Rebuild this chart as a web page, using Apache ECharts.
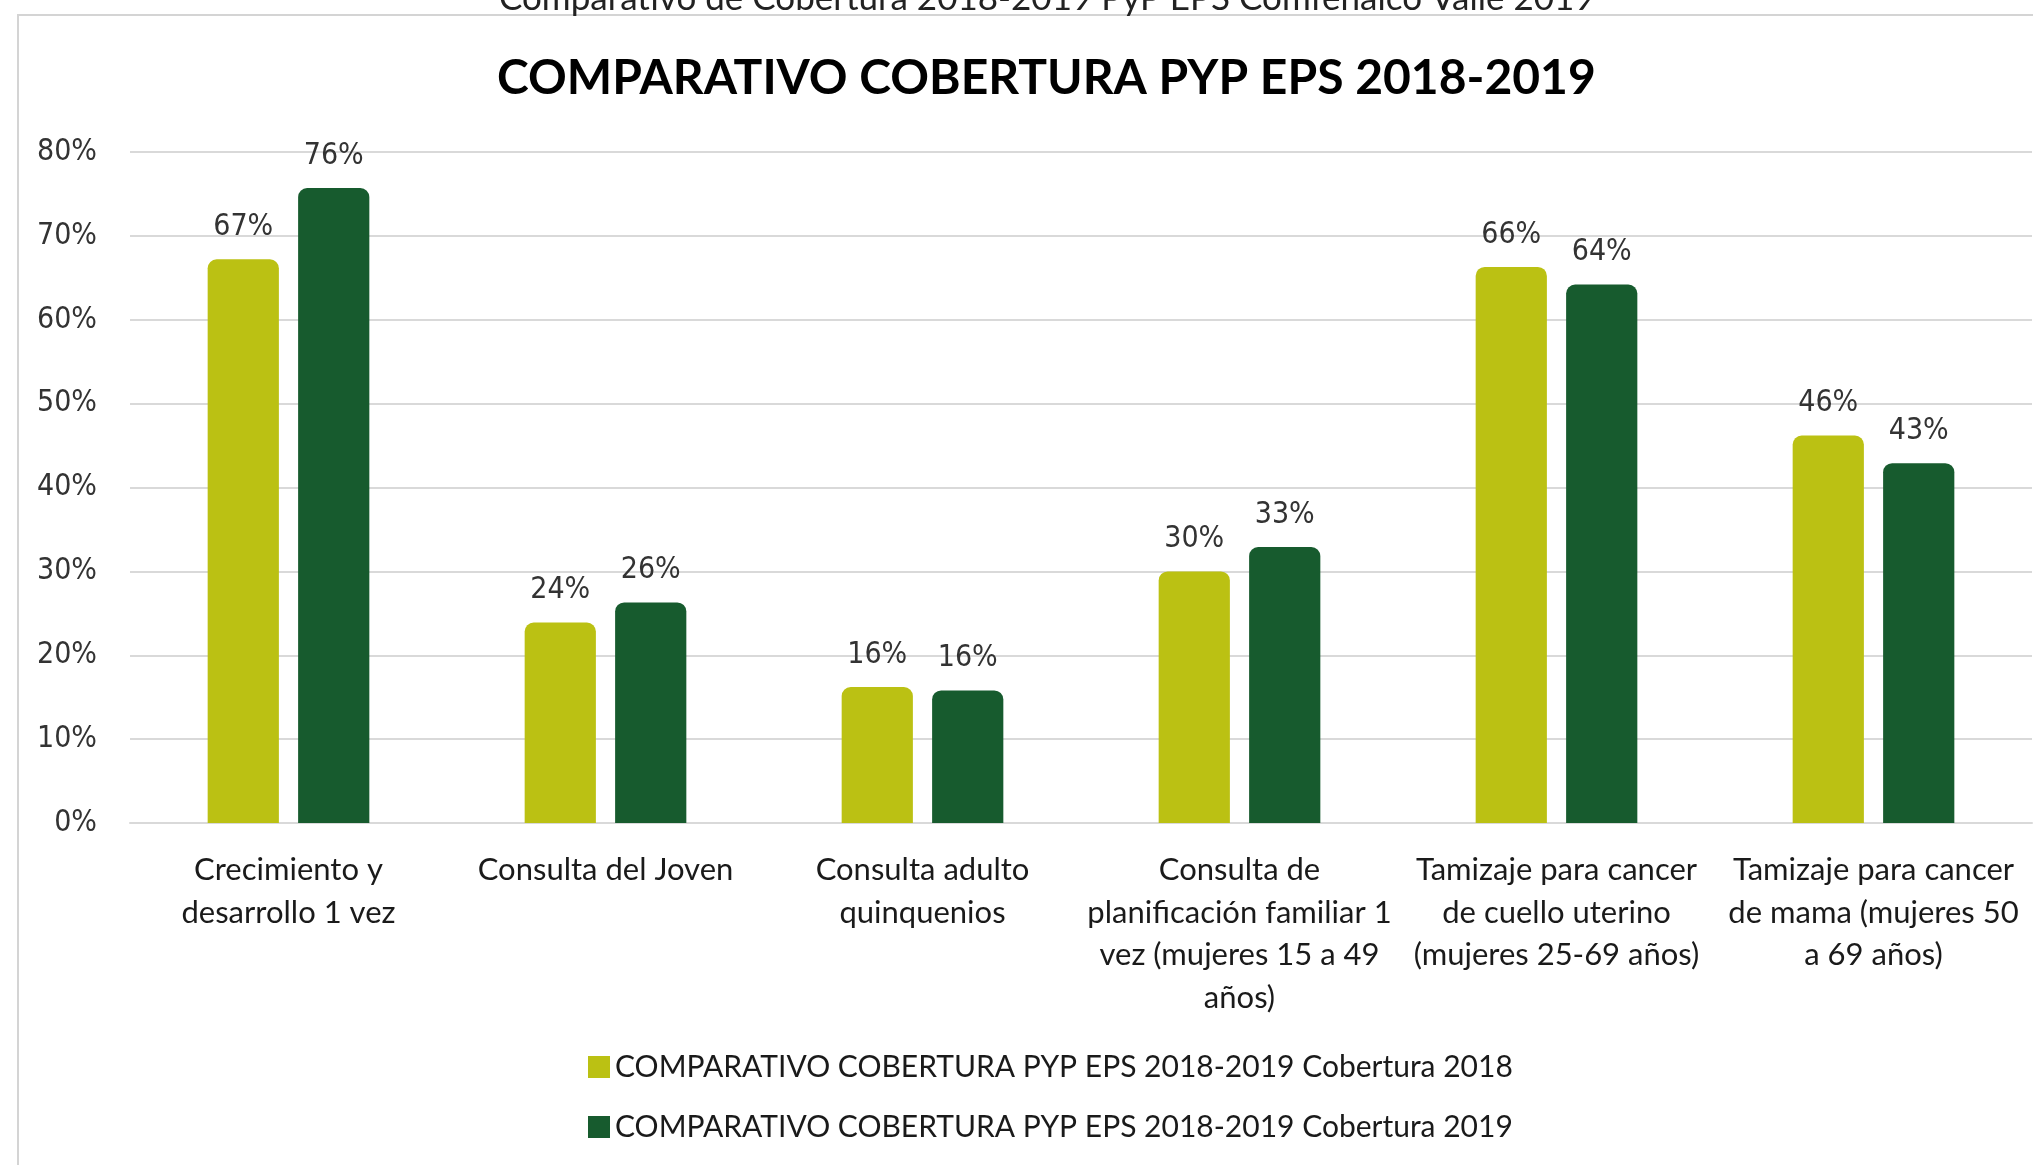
<!DOCTYPE html>
<html>
<head>
<meta charset="utf-8">
<script src="https://cdn.jsdelivr.net/npm/echarts@6/dist/echarts.min.js"></script>
<style>
  html, body { margin: 0; padding: 0; background: #fff; }
  #chart { width: 2033px; height: 1165px; }
</style>
</head>
<body>
<div id="chart"></div>
<script>
const categories = [
  'Crecimiento y\ndesarrollo 1 vez',
  'Consulta del Joven',
  'Consulta adulto\nquinquenios',
  'Consulta de\nplanificación familiar 1\nvez (mujeres 15 a 49\naños)',
  'Tamizaje para cancer\nde cuello uterino\n(mujeres 25-69 años)',
  'Tamizaje para cancer\nde mama (mujeres 50\na 69 años)'
]
const cobertura2018 = [67.2, 23.9, 16.2, 30.0, 66.3, 46.2]
const cobertura2019 = [75.7, 26.3, 15.8, 32.9, 64.2, 42.9]
const yTicks = { min: 0, max: 80, interval: 10 }
const seriesNames = [
  'COMPARATIVO COBERTURA PYP EPS 2018-2019 Cobertura 2018',
  'COMPARATIVO COBERTURA PYP EPS 2018-2019 Cobertura 2019'
]

const textFont = 'Lato, "Open Sans", sans-serif'
const numFont = '"DejaVu Sans Condensed", "DejaVu Sans", sans-serif'

const chart = echarts.init(document.getElementById('chart'))

const barLabel = {
  show: true,
  position: 'top',
  distance: 17,
  fontFamily: numFont,
  fontSize: 30,
  color: '#333',
  formatter: (p) => Math.round(p.value) + '%'
}

const option = {
  animation: false,
  backgroundColor: '#fff',
  title: [
    {
      text: 'Comparativo de Cobertura 2018-2019 PyP EPS Comfenalco Valle 2019',
      left: 494,
      top: -24,
      textStyle: { fontFamily: textFont, fontSize: 35, fontWeight: 'normal', color: '#222' }
    },
    {
      text: 'COMPARATIVO COBERTURA PYP EPS 2018-2019',
      left: 492,
      top: 50,
      textStyle: { fontFamily: textFont, fontSize: 48, fontWeight: 'bold', color: '#000' }
    }
  ],
  graphic: [
    {
      type: 'rect',
      shape: { x: 18, y: 15, width: 2100, height: 1250 },
      style: { fill: 'none', stroke: '#d4d4d4', lineWidth: 2 },
      silent: true,
      z: -1
    }
  ],
  legend: {
    orient: 'vertical',
    left: 583,
    top: 1047,
    icon: 'rect',
    itemWidth: 22,
    itemHeight: 22,
    itemGap: 30,
    textStyle: { fontFamily: textFont, fontSize: 30, color: '#1a1a1a' },
    data: seriesNames
  },
  grid: { left: 130, right: 1, top: 152, bottom: 342 },
  xAxis: {
    type: 'category',
    data: categories,
    axisTick: { show: false },
    axisLine: { lineStyle: { color: '#d9d9d9', width: 2 } },
    axisLabel: {
      interval: 0,
      margin: 26,
      fontFamily: textFont,
      fontSize: 31,
      lineHeight: 42.5,
      color: '#1a1a1a'
    }
  },
  yAxis: {
    type: 'value',
    min: yTicks.min,
    max: yTicks.max,
    interval: yTicks.interval,
    axisLine: { show: false },
    axisTick: { show: false },
    splitLine: { lineStyle: { color: '#d9d9d9', width: 2 } },
    axisLabel: {
      formatter: '{value}%',
      margin: 33,
      fontFamily: numFont,
      fontSize: 30,
      color: '#333'
    }
  },
  series: [
    {
      name: seriesNames[0],
      type: 'bar',
      data: cobertura2018,
      barGap: '27%',
      barCategoryGap: '49%',
      itemStyle: { color: '#BBC113', borderRadius: [9, 9, 0, 0] },
      label: barLabel
    },
    {
      name: seriesNames[1],
      type: 'bar',
      data: cobertura2019,
      itemStyle: { color: '#175B2E', borderRadius: [9, 9, 0, 0] },
      label: barLabel
    }
  ]
}

chart.setOption(option)
</script>
</body>
</html>
